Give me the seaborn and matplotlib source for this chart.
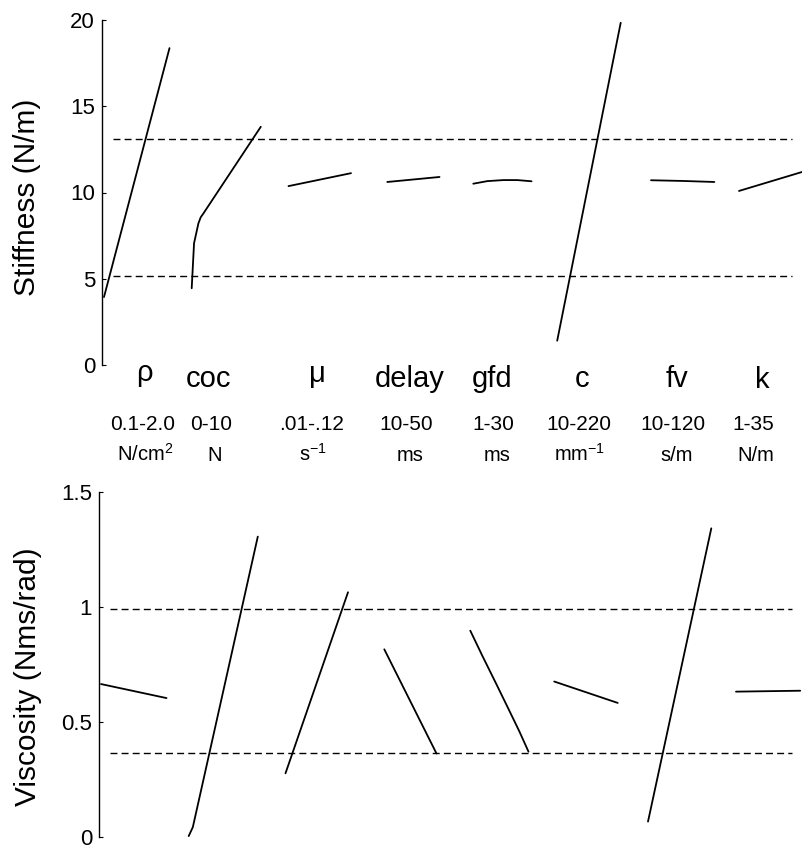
import numpy as np
import pandas as pd
import matplotlib
matplotlib.use('Agg')
import matplotlib.pyplot as plt
import seaborn as sns

# ---------------- data ----------------
param_names = ['ρ', 'coc', 'μ', 'delay', 'gfd', 'c', 'fv', 'k']
param_ranges = ['0.1-2.0', '0-10', '.01-.12', '10-50', '1-30', '10-220', '10-120', '1-35']
param_units = ['N/cm$^{\\mathregular{2}}$', 'N', 's$^{\\mathregular{-1}}$', 'ms', 'ms',
               'mm$^{\\mathregular{-1}}$', 's/m', 'N/m']
param_lo = [0.1, 0.0, 0.01, 10, 1, 10, 10, 1]
param_hi = [2.0, 10.0, 0.12, 50, 30, 220, 120, 35]

# stiffness sweeps (parameter value -> stiffness N/m)
stiff_param = [[0.1, 2.0], [0, 0.34, 0.97, 1.3, 1.7, 10], [0.01, 0.12], [10, 50],
               [1, 8, 16, 23, 30], [10, 220], [10, 65, 120], [1, 35]]
stiff_vals = [[3.94, 18.37], [4.45, 7.06, 8.21, 8.56, 8.79, 13.81], [10.37, 11.12], [10.61, 10.90],
              [10.51, 10.66, 10.72, 10.72, 10.65], [1.41, 19.84], [10.71, 10.67, 10.61], [10.09, 11.21]]
stiff_bounds = [5.15, 13.1]

# viscosity sweeps (parameter value -> viscosity Nms/rad)
visc_param = [[0.1, 2.0], [0, 0.6, 10], [0.01, 0.12], [10, 50],
              [1, 7.1, 13.8, 20.4, 25.4, 30], [10, 220], [10, 120], [1, 35]]
visc_vals = [[0.665, 0.604], [0.004, 0.043, 1.306], [0.277, 1.064], [0.816, 0.363],
             [0.897, 0.786, 0.668, 0.550, 0.460, 0.371], [0.676, 0.583], [0.067, 1.342], [0.632, 0.636]]
visc_bounds = [0.367, 0.99]

stiff_ticks = [0, 5, 10, 15, 20]
stiff_ticklabels = ['0', '5', '10', '15', '20']
visc_ticks = [0, 0.5, 1, 1.5]
visc_ticklabels = ['0', '0.5', '1', '1.5']

# ---------------- layout (pixels) ----------------
W, H = 802, 850
slot_left = [2, 89.7, 186.5, 285.3, 371.3, 455.2, 549, 637]
slot_right = [67.5, 158.8, 249, 337.5, 429.5, 518.7, 612.3, 701.2]
name_x = [144, 209, 317, 410, 492, 582, 677, 762]
name_y = [381, 387, 382, 387, 387, 387, 387, 388]
range_x = [143, 211, 312, 406, 493, 579, 673, 753]
range_y = 430
unit_x = [145, 215, 313, 410, 497, 580, 677, 756]
unit_y = 461

sns.set_style('white')
plt.rcParams['font.family'] = ['Liberation Sans', 'DejaVu Sans']
plt.rcParams['mathtext.fontset'] = 'custom'
plt.rcParams['mathtext.rm'] = 'Liberation Sans'
plt.rcParams['text.color'] = 'black'
plt.rcParams['axes.labelcolor'] = 'black'
plt.rcParams['ytick.color'] = 'black'
plt.rcParams['xtick.color'] = 'black'

fig = plt.figure(figsize=(W / 100, H / 100), dpi=100)
ax_top = fig.add_axes([102 / W, 1 - 365 / H, 700 / W, 345 / H])
ax_bot = fig.add_axes([99 / W, 1 - 837 / H, 703 / W, 345 / H])


def sweep_frame(params, vals):
    rows = []
    for i, (ps, vs) in enumerate(zip(params, vals)):
        for p, v in zip(ps, vs):
            frac = (p - param_lo[i]) / (param_hi[i] - param_lo[i])
            rows.append({'param': param_names[i],
                         'x': slot_left[i] + frac * (slot_right[i] - slot_left[i]),
                         'y': v})
    return pd.DataFrame(rows)


def style_axis(ax, xmax, ticks, ticklabels, ylim, label, label_xy):
    ax.set_xlim(0, xmax)
    ax.set_ylim(*ylim)
    ax.set_xticks([])
    ax.set_xlabel('')
    ax.set_yticks(ticks)
    ax.set_yticklabels(ticklabels)
    ax.tick_params(axis='y', direction='in', length=3, width=0.8, labelsize=16, pad=5,
                   colors='black', labelcolor='black', left=True)
    for s in ['top', 'right', 'bottom']:
        ax.spines[s].set_visible(False)
    ax.spines['left'].set_color('black')
    ax.spines['left'].set_linewidth(1.0)
    ax.set_ylabel(label, fontsize=21.5, va='center', ha='center', color='black')
    ax.yaxis.set_label_coords(*label_xy)
    ax.set_facecolor('white')


df_s = sweep_frame(stiff_param, stiff_vals)
sns.lineplot(data=df_s, x='x', y='y', units='param', estimator=None, sort=False,
             color='black', lw=1.3, ax=ax_top)
ax_top.hlines(stiff_bounds, 11.3, 689.7, colors='black', linestyles=(0, (5, 3)), lw=1.0)
style_axis(ax_top, 700, stiff_ticks, stiff_ticklabels, (0, 20), 'Stiffness (N/m)',
           ((27.5 - 102) / 700, (365 - 197) / 345))

df_v = sweep_frame(visc_param, visc_vals)
sns.lineplot(data=df_v, x='x', y='y', units='param', estimator=None, sort=False,
             color='black', lw=1.3, ax=ax_bot)
ax_bot.hlines(visc_bounds, 11, 692.7, colors='black', linestyles=(0, (5, 3)), lw=1.0)
style_axis(ax_bot, 703, visc_ticks, visc_ticklabels, (0, 1.5), 'Viscosity (Nms/rad)',
           ((28 - 99) / 703, (837 - 677) / 345))

for i in range(len(param_names)):
    fig.text(name_x[i] / W, 1 - name_y[i] / H, param_names[i], fontsize=21,
             ha='center', va='baseline', color='black')
    fig.text(range_x[i] / W, 1 - range_y / H, param_ranges[i], fontsize=15,
             ha='center', va='baseline', color='black')
    fig.text(unit_x[i] / W, 1 - unit_y / H, param_units[i], fontsize=14.5,
             ha='center', va='baseline', color='black')

fig.savefig('out.png', dpi=100, facecolor='white')
